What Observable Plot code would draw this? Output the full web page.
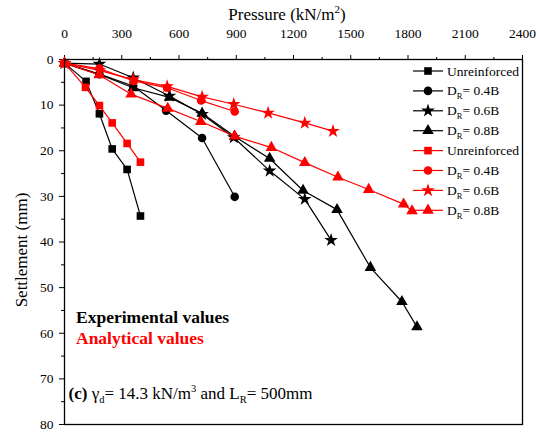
<!DOCTYPE html>
<html>
<head>
<meta charset="utf-8">
<script src="https://cdn.jsdelivr.net/npm/d3@7"></script>
<script src="https://cdn.jsdelivr.net/npm/@observablehq/plot@0.6"></script>
<style>
  html, body { margin: 0; padding: 0; background: white; }
  svg text { font-family: "Liberation Serif", "Times New Roman", serif; }
</style>
</head>
<body>
<div id="chart"></div>
<script>
// ---- Data ----
const seriesNames = ["Unreinforced", "0.4B", "0.6B", "0.8B"];
const seriesSymbols = ["square", "circle", "star", "triangle"];

// Experimental (black)
const expUnreinforcedP = [0, 113, 183, 250, 328, 398];
const expUnreinforcedS = [0.8, 4.8, 11.9, 19.6, 24.1, 34.3];
const exp04P = [0, 183, 360, 532, 721, 892];
const exp04S = [0.8, 3.2, 5.8, 11.2, 17.2, 30.1];
const exp06P = [0, 183, 360, 550, 721, 887, 1075, 1259, 1397];
const exp06S = [0.8, 1.0, 4.0, 8.0, 12.0, 17.1, 24.4, 30.6, 39.6];
const exp08P = [0, 183, 360, 550, 721, 892, 1075, 1250, 1428, 1603, 1768, 1847];
const exp08S = [0.8, 3.3, 6.2, 8.3, 11.8, 16.9, 21.7, 28.7, 32.9, 45.6, 53.1, 58.6];

// Analytical (red)
const anaUnreinforcedP = [0, 110, 183, 250, 328, 398];
const anaUnreinforcedS = [0.8, 6.1, 10.1, 13.9, 18.4, 22.5];
const ana04P = [0, 183, 363, 538, 716, 892];
const ana04S = [0.8, 2.0, 4.7, 6.2, 9.0, 11.4];
const ana06P = [0, 183, 360, 538, 721, 887, 1067, 1259, 1407];
const ana06S = [0.8, 2.4, 4.4, 5.9, 8.2, 9.8, 11.7, 13.9, 15.7];
const ana08P = [0, 183, 349, 541, 714, 892, 1084, 1259, 1433, 1594, 1777, 1821];
const ana08S = [0.8, 3.4, 7.6, 10.7, 13.6, 16.8, 19.3, 22.6, 25.8, 28.5, 31.7, 33.2];

const xTicks = [0, 300, 600, 900, 1200, 1500, 1800, 2100, 2400];
const yTicks = [0, 10, 20, 30, 40, 50, 60, 70, 80];

const legendLabels = ["Unreinforced", "D|R|= 0.4B", "D|R|= 0.6B", "D|R|= 0.8B"];

// ---- Build table ----
function rows(group, name, P, S) {
  return P.map((p, i) => ({group, name, key: group + name, p, s: S[i]}));
}
const expRows = [
  ...rows("exp", "Unreinforced", expUnreinforcedP, expUnreinforcedS),
  ...rows("exp", "0.4B", exp04P, exp04S),
  ...rows("exp", "0.6B", exp06P, exp06S),
  ...rows("exp", "0.8B", exp08P, exp08S)
];
const anaRows = [
  ...rows("ana", "Unreinforced", anaUnreinforcedP, anaUnreinforcedS),
  ...rows("ana", "0.4B", ana04P, ana04S),
  ...rows("ana", "0.6B", ana06P, ana06S),
  ...rows("ana", "0.8B", ana08P, ana08S)
];

const BLACK = "#000000", RED = "#ff0000";
const R = 4.3;

const plot = Plot.plot({
  width: 538,
  height: 434,
  marginLeft: 64,
  marginRight: 16,
  marginTop: 59,
  marginBottom: 10,
  style: {fontFamily: "'Liberation Serif', 'Times New Roman', serif", fontSize: "13px", background: "white", color: "black"},
  x: {domain: [0, 2400]},
  y: {domain: [0, 80], reverse: true},
  symbol: {domain: seriesNames, range: seriesSymbols},
  marks: [
    Plot.axisX({anchor: "top", ticks: xTicks, tickSize: 5, tickPadding: 17, label: null, fontSize: 13.5, tickFormat: d3.format("d")}),
    Plot.axisX({anchor: "top", ticks: d3.range(150, 2400, 300), tickSize: 3, tickFormat: () => "", label: null}),
    Plot.axisY({anchor: "left", ticks: yTicks, tickSize: 5, tickPadding: 6, label: null, fontSize: 13.5, tickFormat: d3.format("d")}),
    Plot.axisY({anchor: "left", ticks: d3.range(5, 80, 10), tickSize: 3, tickFormat: () => "", label: null}),
    Plot.line(expRows, {x: "p", y: "s", z: "key", stroke: BLACK, strokeWidth: 1.2}),
    Plot.dot(expRows, {x: "p", y: "s", symbol: "name", fill: BLACK, stroke: "none", r: R}),
    Plot.line(anaRows, {x: "p", y: "s", z: "key", stroke: RED, strokeWidth: 1.2}),
    Plot.dot(anaRows, {x: "p", y: "s", symbol: "name", fill: RED, stroke: "none", r: R}),
    Plot.frame({stroke: BLACK, strokeWidth: 1.3})
  ]
});

document.getElementById("chart").appendChild(plot);
const svg = d3.select(plot);

// Title (x axis label)
const title = svg.append("text")
  .attr("x", 287).attr("y", 20)
  .attr("text-anchor", "middle")
  .attr("font-size", 17).attr("fill", BLACK);
title.append("tspan").text("Pressure (kN/m");
title.append("tspan").attr("font-size", 11).attr("dy", -7).text("2");
title.append("tspan").attr("dy", 7).text(")");

// Y axis label
svg.append("text")
  .attr("transform", "translate(27,250) rotate(-90)")
  .attr("text-anchor", "middle")
  .attr("font-size", 17).attr("fill", BLACK)
  .text("Settlement (mm)");

// Legend
const legend = svg.append("g");
const groups = [BLACK, RED];
let row = 0;
groups.forEach(color => {
  seriesNames.forEach((name, i) => {
    const cy = 71 + row * 19.9;
    const g = legend.append("g");
    g.append("line").attr("x1", 413).attr("x2", 443).attr("y1", cy).attr("y2", cy)
      .attr("stroke", color).attr("stroke-width", 1.2);
    const sym = {square: d3.symbolSquare, circle: d3.symbolCircle, star: d3.symbolStar, triangle: d3.symbolTriangle}[seriesSymbols[i]];
    g.append("path").attr("d", d3.symbol(sym, Math.PI * R * R)())
      .attr("transform", `translate(428,${cy})`).attr("fill", color);
    const t = g.append("text").attr("x", 447).attr("y", cy + 4.5)
      .attr("text-anchor", "start")
      .attr("font-size", 13.5).attr("fill", BLACK);
    const parts = legendLabels[i].split("|");
    if (parts.length === 1) {
      t.text(parts[0]);
    } else {
      t.append("tspan").text(parts[0]);
      t.append("tspan").attr("font-size", 8.5).attr("dy", 4).text(parts[1]);
      t.append("tspan").attr("dy", -4).text(parts[2]);
    }
    row++;
  });
});

// Annotations
svg.append("text").attr("x", 76).attr("y", 323).attr("text-anchor", "start")
  .attr("font-size", 17.5).attr("font-weight", "bold").attr("fill", BLACK)
  .text("Experimental values");
svg.append("text").attr("x", 76).attr("y", 344).attr("text-anchor", "start")
  .attr("font-size", 17.5).attr("font-weight", "bold").attr("fill", RED)
  .text("Analytical values");

const cap = svg.append("text").attr("x", 68.5).attr("y", 399).attr("text-anchor", "start")
  .attr("font-size", 17).attr("fill", BLACK);
cap.append("tspan").attr("font-weight", "bold").text("(c)");
cap.append("tspan").text(" \u03b3");
cap.append("tspan").attr("font-size", 10.5).attr("dy", 4).text("d");
cap.append("tspan").attr("dy", -4).text("= 14.3 kN/m");
cap.append("tspan").attr("font-size", 10.5).attr("dy", -7).text("3");
cap.append("tspan").attr("dy", 7).text(" and L");
cap.append("tspan").attr("font-size", 10.5).attr("dy", 4).text("R");
cap.append("tspan").attr("dy", -4).text("= 500mm");
</script>
</body>
</html>
